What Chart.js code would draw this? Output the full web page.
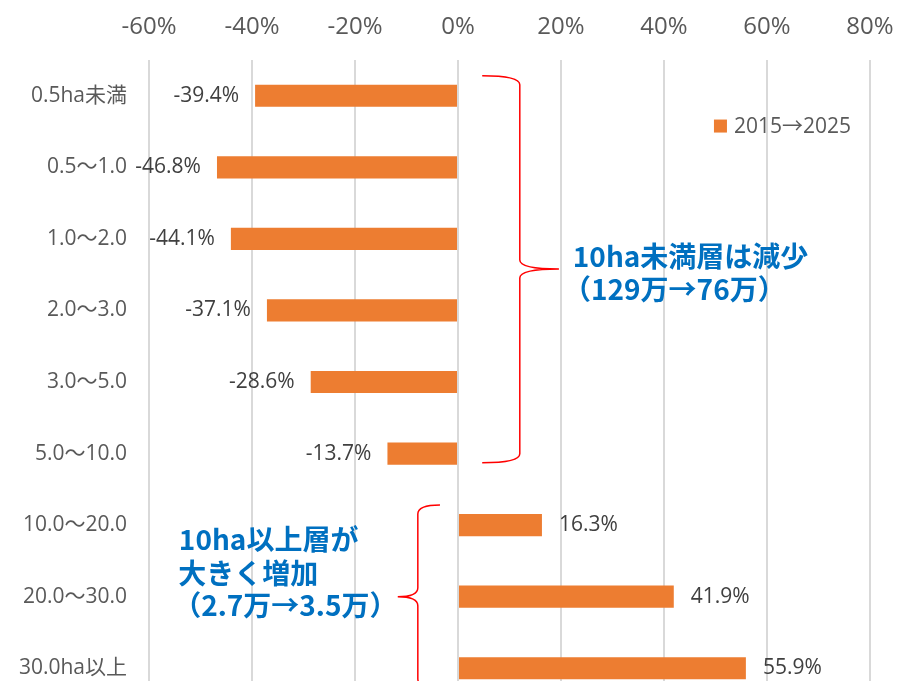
<!DOCTYPE html>
<html>
<head>
<meta charset="utf-8">
<script src="https://cdn.jsdelivr.net/npm/chart.js@4"></script>
<style>
  html, body { margin: 0; padding: 0; background: #fff; overflow: hidden; }
  #wrap { width: 897px; height: 704px; }
</style>
</head>
<body>
<div id="wrap"><canvas id="c" width="897" height="704"></canvas></div>
<script>
const categories = ['0.5ha未満', '0.5～1.0', '1.0～2.0', '2.0～3.0', '3.0～5.0', '5.0～10.0', '10.0～20.0', '20.0～30.0', '30.0ha以上'];
const changeRates = [-39.4, -46.8, -44.1, -37.1, -28.6, -13.7, 16.3, 41.9, 55.9];
const seriesName = '2015→2025';
const xTicks = [-60, 80];

const ORANGE = '#ED7D31';
const BLUE = '#0070C0';
const RED = '#FF0000';
const latinFont = "'Open Sans', 'Noto Sans CJK JP', sans-serif";
const cjkFont = "'Noto Sans CJK JP', sans-serif";

// value labels at the bar ends
const barLabels = {
  id: 'barLabels',
  afterDatasetsDraw(chart) {
    const ctx = chart.ctx;
    const meta = chart.getDatasetMeta(0);
    ctx.save();
    ctx.font = '21px ' + latinFont;
    ctx.fillStyle = '#404040';
    ctx.textBaseline = 'middle';
    meta.data.forEach((bar, i) => {
      const v = changeRates[i];
      const txt = v.toFixed(1) + '%';
      if (v < 0) {
        ctx.textAlign = 'right';
        ctx.fillText(txt, bar.x - 16, bar.y);
      } else {
        ctx.textAlign = 'left';
        ctx.fillText(txt, bar.x + 17, bar.y);
      }
    });
    ctx.restore();
  }
};

// legend, braces and notes
const notes = {
  id: 'notes',
  afterDraw(chart) {
    const ctx = chart.ctx;
    const xs = chart.scales.x;
    const ys = chart.scales.y;
    const px = v => xs.getPixelForValue(v);
    const y0 = ys.getPixelForValue(0);
    const step = ys.getPixelForValue(1) - y0;
    const py = f => y0 + f * step;

    ctx.save();
    // legend
    const lx = px(49.7), ly = py(0.43);
    ctx.fillStyle = ORANGE;
    ctx.fillRect(lx, ly - 7, 13, 13);
    ctx.font = '21px ' + latinFont;
    ctx.fillStyle = '#595959';
    ctx.textAlign = 'left';
    ctx.textBaseline = 'middle';
    ctx.fillText(seriesName, lx + 20, ly);

    // braces
    ctx.strokeStyle = RED;
    ctx.lineWidth = 1.5;
    function brace(xEnd, xMid, xTip, yTop, yTip, yBot) {
      const r = 9;
      ctx.beginPath();
      ctx.moveTo(xEnd, yTop);
      ctx.quadraticCurveTo(xMid, yTop, xMid, yTop + r);
      ctx.lineTo(xMid, yTip - r);
      ctx.quadraticCurveTo(xMid, yTip, xTip, yTip);
      ctx.quadraticCurveTo(xMid, yTip, xMid, yTip + r);
      ctx.lineTo(xMid, yBot - r);
      ctx.quadraticCurveTo(xMid, yBot, xEnd, yBot);
      ctx.stroke();
    }
    brace(px(4.7), px(12.0), px(19.6), py(-0.28), py(2.42), py(5.13));
    brace(px(-3.5), px(-7.8), px(-11.7), py(5.72), py(7.0), py(8.28));

    // notes
    ctx.fillStyle = BLUE;
    ctx.font = 'bold 28px ' + cjkFont;
    ctx.textAlign = 'left';
    ctx.fillText('10ha未満層は減少', px(22.3), py(2.24));
    ctx.fillText('（129万→76万）', px(20.4), py(2.7));
    ctx.fillText('10ha以上層が', px(-54.2), py(6.2));
    ctx.fillText('大きく増加', px(-54.3), py(6.67));
    ctx.fillText('（2.7万→3.5万）', px(-55.3), py(7.12));
    ctx.restore();
  }
};

function noPad(scale) {
  scale.paddingLeft = 0;
  scale.paddingRight = 0;
  scale.paddingTop = 0;
  scale.paddingBottom = 0;
}

new Chart(document.getElementById('c'), {
  type: 'bar',
  data: {
    labels: categories,
    datasets: [{
      label: seriesName,
      data: changeRates,
      backgroundColor: ORANGE,
      barPercentage: 0.31,
      categoryPercentage: 1,
    }],
  },
  options: {
    indexAxis: 'y',
    responsive: false,
    animation: false,
    layout: { padding: { top: 0, right: 27, bottom: 0, left: 0 } },
    plugins: {
      legend: { display: false },
      tooltip: { enabled: false },
    },
    scales: {
      x: {
        position: 'top',
        min: xTicks[0],
        max: xTicks[1],
        afterFit(scale) { scale.height = 60; noPad(scale); },
        ticks: {
          stepSize: 20,
          padding: 18,
          color: '#595959',
          font: { size: 24, family: latinFont },
          callback: v => v + '%',
        },
        grid: { color: '#d9d9d9', lineWidth: 2, drawTicks: false },
        border: { display: false },
      },
      y: {
        afterFit(scale) { scale.width = 149; noPad(scale); },
        ticks: {
          padding: 22,
          color: '#595959',
          font: { size: 21, family: latinFont },
        },
        grid: { display: false, drawTicks: false },
        border: { display: false },
      },
    },
  },
  plugins: [barLabels, notes],
});
</script>
</body>
</html>
